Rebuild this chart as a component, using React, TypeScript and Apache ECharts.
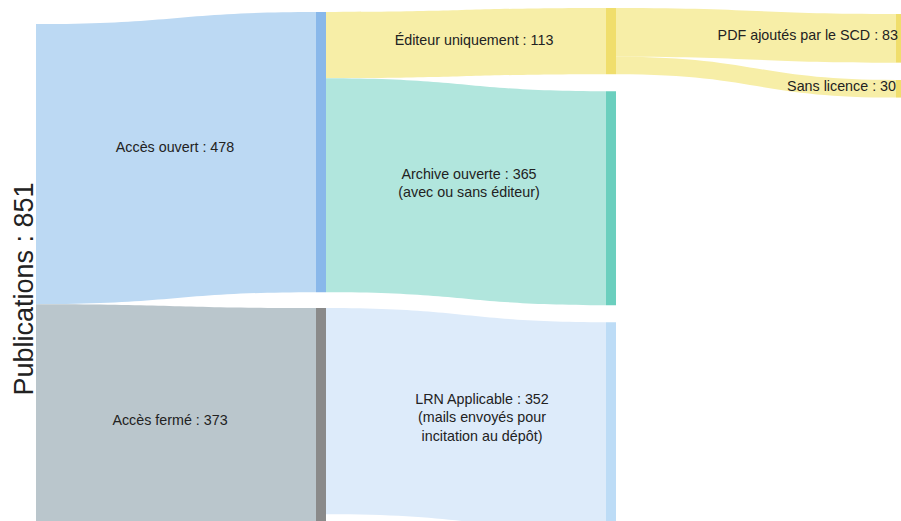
import React, { useEffect, useRef } from "react";
import * as echarts from "echarts";

// ---- data ----
const nodeNames = [
  "Publications",
  "Accès ouvert",
  "Accès fermé",
  "Éditeur uniquement",
  "Archive ouverte",
  "LRN Applicable",
  "PDF ajoutés par le SCD",
  "Sans licence",
];
const nodeNotes = [
  "",
  "",
  "",
  "",
  "(avec ou sans éditeur)",
  "(mails envoyés pour\nincitation au dépôt)",
  "",
  "",
];
const linkSources = [
  "Publications",
  "Publications",
  "Accès ouvert",
  "Accès ouvert",
  "Accès fermé",
  "Éditeur uniquement",
  "Éditeur uniquement",
];
const linkTargets = [
  "Accès ouvert",
  "Accès fermé",
  "Éditeur uniquement",
  "Archive ouverte",
  "LRN Applicable",
  "PDF ajoutés par le SCD",
  "Sans licence",
];
const linkValues = [478, 373, 113, 365, 352, 83, 30];

// ---- styles / layout tweaks ----
const nodeBarColors: Record<string, string> = {
  Publications: "rgba(0,0,0,0)",
  "Accès ouvert": "#89B8EA",
  "Accès fermé": "#8A8A8A",
  "Éditeur uniquement": "#F0DE6C",
  "Archive ouverte": "#6BCFBE",
  "LRN Applicable": "#BDDCF6",
  "PDF ajoutés par le SCD": "#F0DE6C",
  "Sans licence": "#F0DE6C",
};
const linkColors: Record<string, string> = {
  "Accès ouvert": "#BCD9F3",
  "Accès fermé": "#BAC6CC",
  "Éditeur uniquement": "#F7EEA7",
  "Archive ouverte": "#B1E6DD",
  "LRN Applicable": "#DDEBFA",
  "PDF ajoutés par le SCD": "#F7EEA7",
  "Sans licence": "#F7EEA7",
};
// vertical shift (px inside the sankey box) of some nodes, mimicking the reference's relaxed layout
const nodeShift: Record<string, number> = {
  Publications: 16,
  "Accès ouvert": 4,
  "Accès fermé": 300,
  "PDF ajoutés par le SCD": 6,
  "Sans licence": 72,
};
const labelPlacement: Record<string, any> = {
  "Accès ouvert": { position: [-141, 135], align: "center" },
  "Accès fermé": { position: [-146, 112], align: "center" },
  "Éditeur uniquement": { position: [-132, 32], align: "center" },
  "Archive ouverte": { position: [-137, 92], align: "center" },
  "LRN Applicable": { position: [-124, 95], align: "center" },
  "PDF ajoutés par le SCD": { position: [2, 21], align: "right" },
  "Sans licence": { position: [0, 6], align: "right" },
};

const FONT = "'Liberation Sans', Arial, Helvetica, sans-serif";
const BOX = { left: 26, top: 8, width: 880, height: 520.5 };

export default function App() {
  const ref = useRef<HTMLDivElement>(null);

  useEffect(() => {
    document.body.style.margin = "0";
    if (!ref.current) return;
    const chart = echarts.init(ref.current, null, { renderer: "svg" });

    const rootName = nodeNames[0];
    const rootValue = linkSources.reduce(
      (s, src, i) => (src === rootName ? s + linkValues[i] : s),
      0
    );

    const nodes = nodeNames.map((name, i) => {
      const place = labelPlacement[name];
      const node: any = {
        name,
        itemStyle: { color: nodeBarColors[name], borderWidth: 0 },
        label: place
          ? {
              show: true,
              position: place.position,
              align: place.align,
              verticalAlign: "middle",
              lineHeight: 18.5,
              formatter: (p: any) =>
                `${p.name} : ${p.value}` + (nodeNotes[i] ? "\n" + nodeNotes[i] : ""),
            }
          : { show: false },
      };
      if (nodeShift[name] != null) node.localY = nodeShift[name] / BOX.height;
      return node;
    });

    const links = linkValues.map((v, i) => ({
      source: linkSources[i],
      target: linkTargets[i],
      value: v,
      lineStyle: { color: linkColors[linkTargets[i]], opacity: 1 },
    }));

    chart.setOption({
      animation: false,
      backgroundColor: "#ffffff",
      tooltip: { show: false },
      graphic: [
        {
          type: "text",
          x: 23.5,
          y: 289,
          rotation: Math.PI / 2,
          style: {
            text: `${rootName} : ${rootValue}`,
            fontSize: 27,
            fontFamily: FONT,
            fill: "#222222",
            align: "center",
            verticalAlign: "middle",
          },
        },
      ],
      series: [
        {
          type: "sankey",
          ...BOX,
          nodeWidth: 10,
          nodeGap: 17,
          nodeAlign: "left",
          layoutIterations: 0,
          draggable: false,
          emphasis: { disabled: true },
          label: {
            color: "#222222",
            fontSize: 14.3,
            fontFamily: FONT,
          },
          lineStyle: { curveness: 0.5, opacity: 1 },
          data: nodes,
          links,
        },
      ],
    });

    return () => chart.dispose();
  }, []);

  return <div ref={ref} style={{ width: 901, height: 521 }} />;
}
